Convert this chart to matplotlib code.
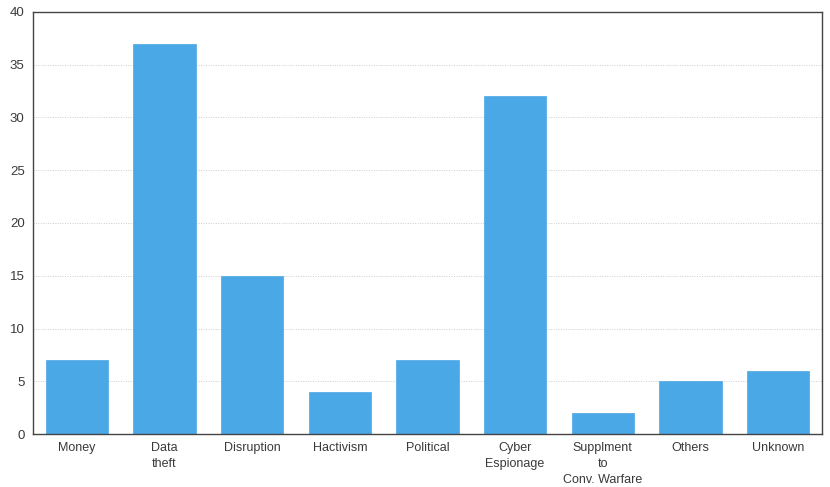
import numpy as np
import matplotlib.pyplot as plt

categories = ['Money', 'Data\ntheft', 'Disruption', 'Hactivism', 'Political',
              'Cyber\nEspionage', 'Supplment\nto\nConv. Warfare', 'Others', 'Unknown']
values = [7, 37, 15, 4, 7, 32, 2, 5, 6]
yticks = [0, 5, 10, 15, 20, 25, 30, 35, 40]

plt.rcParams['font.family'] = ['Liberation Sans', 'DejaVu Sans']

fig = plt.figure(figsize=(8.3, 4.87), dpi=100)
ax = fig.add_axes([0.0398, 0.1088, 0.9504, 0.8666])

x = np.arange(len(categories))
ax.bar(x, values, width=0.71, color='#4ba8e6', edgecolor='#5aaee6', linewidth=0.6, zorder=2)

ax.set_xlim(-0.5, len(categories) - 0.5)
ax.set_ylim(0, 40)
ax.set_yticks(yticks)
ax.set_xticks(x)
ax.set_xticklabels(categories, fontsize=9, color='#3a3a3a', linespacing=1.45)
ax.tick_params(axis='y', labelsize=9.5, colors='#3a3a3a', length=0, pad=6)
ax.tick_params(axis='x', length=0, pad=6)
ax.yaxis.grid(True, linestyle=(0, (1, 1.5)), color='#cccccc', linewidth=0.7, zorder=0)
for s in ax.spines.values():
    s.set_color('#444444')
    s.set_linewidth(1)

fig.savefig('out.png', dpi=100)
